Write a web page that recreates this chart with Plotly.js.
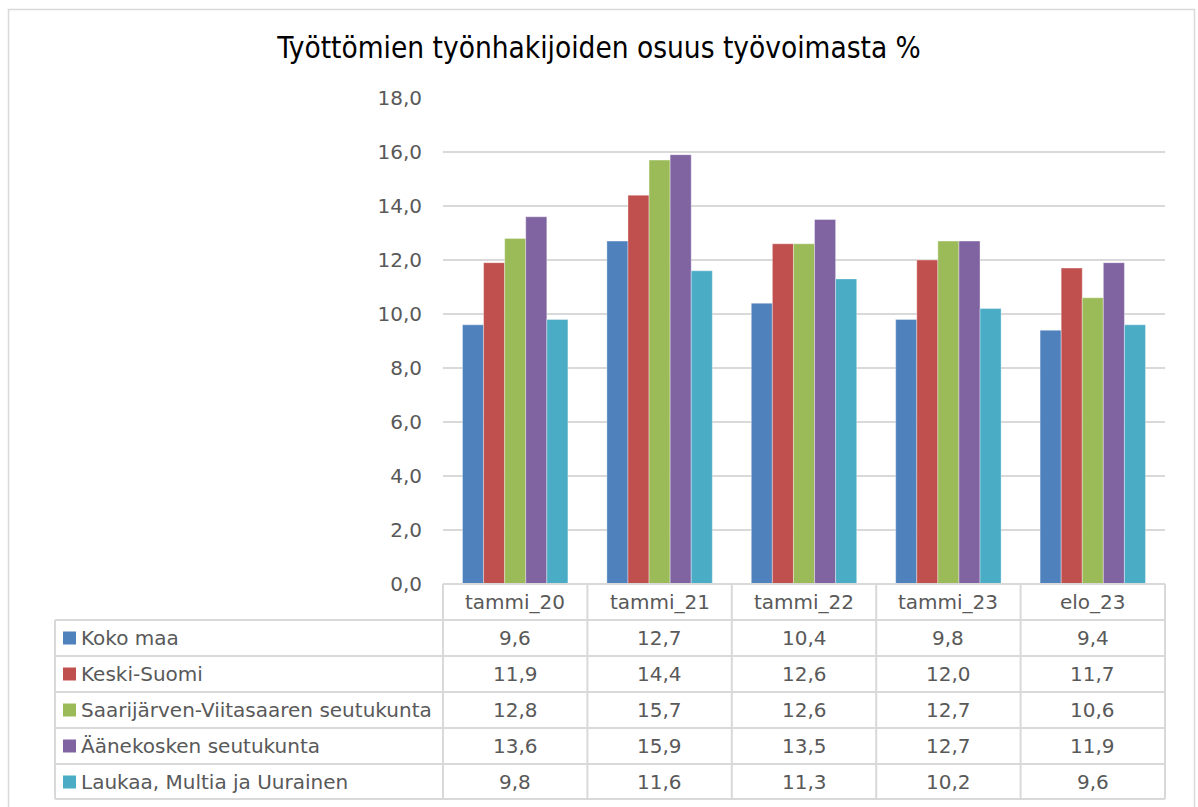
<!DOCTYPE html>
<html>
<head>
<meta charset="utf-8">
<script src="https://cdn.plot.ly/plotly-3.0.1.min.js"></script>
<style>
html,body{margin:0;padding:0;background:#fff;}
#chart{width:1198px;height:807px;}
</style>
</head>
<body>
<div id="chart"></div>
<script>
const categories = ["tammi_20", "tammi_21", "tammi_22", "tammi_23", "elo_23"];
const seriesNames = ["Koko maa", "Keski-Suomi", "Saarijärven-Viitasaaren seutukunta", "Äänekosken seutukunta", "Laukaa, Multia ja Uurainen"];
const kokoMaa = [9.6, 12.7, 10.4, 9.8, 9.4];
const keskiSuomi = [11.9, 14.4, 12.6, 12.0, 11.7];
const saarijarvi = [12.8, 15.7, 12.6, 12.7, 10.6];
const aanekoski = [13.6, 15.9, 13.5, 12.7, 11.9];
const laukaa = [9.8, 11.6, 11.3, 10.2, 9.6];
const seriesValues = [kokoMaa, keskiSuomi, saarijarvi, aanekoski, laukaa];
const colors = ["#4F81BD", "#C0504D", "#9BBB59", "#8064A2", "#4BACC6"];

const W = 1198, H = 807;
const L = 443, R = 1165, T = 98, B = 584;
const pw = R - L, ph = B - T;
const px = x => (x - L) / pw;
const py = y => (B - y) / ph;
const textColor = "#595959";
const lineColor = "#d9d9d9";
const font = "DejaVu Sans, Verdana, sans-serif";
const fs = 20;

const traces = seriesNames.map((n, i) => ({
  type: "bar",
  name: n,
  x: categories,
  y: seriesValues[i],
  marker: {color: colors[i], line: {color: "rgba(255,255,255,0.6)", width: 0.6}},
  hoverinfo: "x+y+name"
}));

const shapes = [];
const annotations = [];
const rowTop = 620, rowH = 36;
const headerTop = 584;
const nRows = seriesNames.length;
const tableBottom = rowTop + rowH * nRows - 1;
const lw = 2;
// outer chart border
shapes.push({type: "rect", xref: "paper", yref: "paper", x0: px(8.5), x1: px(1194.5), y0: py(9.5), y1: py(812), line: {color: lineColor, width: 1.5}, layer: "below"});
// header row top
shapes.push({type: "line", xref: "paper", yref: "paper", x0: px(L), x1: px(R), y0: py(headerTop), y1: py(headerTop), line: {color: lineColor, width: lw}});
// horizontal lines of rows
for (let r = 0; r <= nRows; r++) {
  const y = rowTop + r * rowH - (r === nRows ? 1 : 0);
  shapes.push({type: "line", xref: "paper", yref: "paper", x0: px(55), x1: px(R), y0: py(y), y1: py(y), line: {color: lineColor, width: lw}});
}
// vertical lines
const colW = pw / categories.length;
for (let c = 0; c <= categories.length; c++) {
  const x = L + c * colW;
  shapes.push({type: "line", xref: "paper", yref: "paper", x0: px(x), x1: px(x), y0: py(headerTop), y1: py(tableBottom), line: {color: lineColor, width: lw}});
}
shapes.push({type: "line", xref: "paper", yref: "paper", x0: px(55), x1: px(55), y0: py(rowTop), y1: py(tableBottom), line: {color: lineColor, width: lw}});

// header labels
categories.forEach((c, j) => {
  annotations.push({xref: "paper", yref: "paper", x: px(L + (j + 0.5) * colW), y: py(headerTop + 18), text: c, showarrow: false, xanchor: "center", yanchor: "middle", font: {family: font, size: fs, color: textColor}});
});
// rows
seriesNames.forEach((n, i) => {
  const yc = rowTop + i * rowH + rowH / 2;
  shapes.push({type: "rect", xref: "paper", yref: "paper", x0: px(63), x1: px(76), y0: py(yc - 6.5), y1: py(yc + 6.5), fillcolor: colors[i], line: {width: 0}});
  annotations.push({xref: "paper", yref: "paper", x: px(79), y: py(yc), text: n, showarrow: false, xanchor: "left", yanchor: "middle", font: {family: font, size: fs, color: textColor}});
  seriesValues[i].forEach((v, j) => {
    annotations.push({xref: "paper", yref: "paper", x: px(L + (j + 0.5) * colW), y: py(yc), text: v.toFixed(1).replace(".", ","), showarrow: false, xanchor: "center", yanchor: "middle", font: {family: font, size: fs, color: textColor}});
  });
});

const layout = {
  width: W, height: H,
  margin: {l: L, r: W - R, t: T, b: H - B, pad: 0},
  paper_bgcolor: "#fff", plot_bgcolor: "#fff",
  separators: ", ",
  title: {text: "Työttömien työnhakijoiden osuus työvoimasta %", x: 0.5, xref: "container", xanchor: "center", y: 1 - 48 / H, yref: "container", yanchor: "middle",
    font: {family: "DejaVu Sans Condensed, Liberation Sans Narrow, sans-serif", size: 29.5, color: "#000", weight: 500}},
  showlegend: false,
  barmode: "group",
  bargap: 0.27,
  bargroupgap: 0,
  xaxis: {showticklabels: false, showgrid: false, zeroline: false, showline: false, ticks: ""},
  yaxis: {range: [0, 18], dtick: 2, tickformat: ".1f", showgrid: true, gridcolor: lineColor, gridwidth: 1.5, zeroline: false, showline: false, ticks: "", ticklabelstandoff: 20,
    tickfont: {family: font, size: fs, color: textColor}},
  shapes: shapes,
  annotations: annotations
};
Plotly.newPlot("chart", traces, layout, {displayModeBar: false, staticPlot: true});
</script>
</body>
</html>
